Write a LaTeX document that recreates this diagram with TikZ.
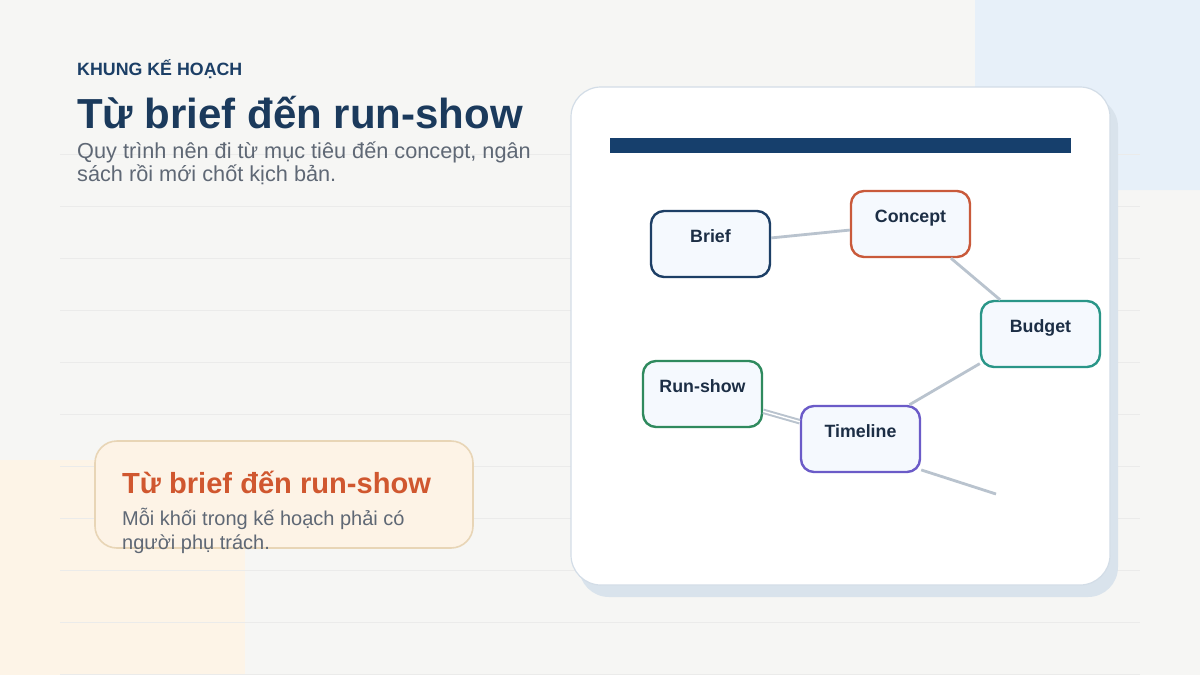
\documentclass[tikz,border=0pt]{standalone}
\usepackage{fontspec}
\setmainfont{Liberation Sans}
\usetikzlibrary{shapes.misc}
\definecolor{bgc}{HTML}{F6F6F4}
\definecolor{peach}{HTML}{FDF4E7}
\definecolor{bluec}{HTML}{E7F0F9}
\definecolor{gridc}{HTML}{EBEBEA}
\definecolor{shadowc}{HTML}{D9E3EC}
\definecolor{cardline}{HTML}{D3DDE7}
\definecolor{barc}{HTML}{163F6C}
\definecolor{navy}{HTML}{1B3A5C}
\definecolor{kick}{HTML}{1C3F66}
\definecolor{subc}{HTML}{5F6875}
\definecolor{edgec}{HTML}{B9C3CE}
\definecolor{nodefill}{HTML}{F5F9FE}
\definecolor{nodetext}{HTML}{1C2E45}
\definecolor{cBrief}{HTML}{1D3F66}
\definecolor{cConcept}{HTML}{C95A3B}
\definecolor{cBudget}{HTML}{2A9688}
\definecolor{cRun}{HTML}{2F8A5E}
\definecolor{cTime}{HTML}{6B5BC8}
\definecolor{callfill}{HTML}{FDF3E6}
\definecolor{callline}{HTML}{E8D5B6}
\definecolor{callt}{HTML}{D0572F}
\tikzset{
  flow/.style={draw=#1, line width=2.4pt, fill=nodefill, rounded corners=13pt,
    minimum width=119pt, inner sep=0pt, text height=31pt, text depth=35pt,
    font=\bfseries\fontsize{17.8}{20}\selectfont, text=nodetext},
  link/.style={draw=edgec, line width=2.8pt},
  txt/.style={anchor=base west, inner sep=0pt},
}
\begin{document}
\begin{tikzpicture}[x=1pt,y=-1pt]
\useasboundingbox (0,0) rectangle (1200,675);
\fill[bgc] (0,0) rectangle (1200,675);
\fill[peach] (0,460) rectangle (245,675);
\fill[bluec, rounded corners=20pt] (975,-30) rectangle (1230,190);
\foreach \yy in {154,206,...,674} \draw[gridc, line width=0.8pt] (60,\yy) -- (1140,\yy);
% header texts
\node[txt, text=kick, font=\bfseries\fontsize{17.8}{20}\selectfont] (kicker) at (77,75) {KHUNG KẾ HOẠCH};
\node[txt, text=navy, font=\bfseries\fontsize{42}{46}\selectfont] (title) at (77,128) {Từ brief đến run-show};
\node[txt, text=subc, font=\fontsize{21.7}{24}\selectfont] (sub1) at (77,158) {Quy trình nên đi từ mục tiêu đến concept, ngân};
\node[txt, text=subc, font=\fontsize{21.7}{24}\selectfont] (sub2) at (77,181) {sách rồi mới chốt kịch bản.};
% callout
\draw[callline, fill=callfill, line width=1.6pt, rounded corners=22pt] (95,441) rectangle (473,548);
\node[txt, text=callt, font=\bfseries\fontsize{29.1}{33}\selectfont] (ctitle) at (122,493) {Từ brief đến run-show};
\node[txt, text=subc, font=\fontsize{20}{23}\selectfont] (cb1) at (122,525) {Mỗi khối trong kế hoạch phải có};
\node[txt, text=subc, font=\fontsize{20}{23}\selectfont] (cb2) at (122,549) {người phụ trách.};
% card
\fill[shadowc, rounded corners=30pt] (579,97) rectangle (1118,597);
\draw[cardline, fill=white, line width=1.2pt, rounded corners=30pt] (571,87) rectangle (1110,585);
\fill[barc] (610,138) rectangle (1071,153);
% nodes
\node[flow=cBrief] (brief) at (710.5,244) {Brief};
\node[flow=cConcept] (concept) at (910.5,224) {Concept};
\node[flow=cBudget] (budget) at (1040.5,334) {Budget};
\node[flow=cRun] (runshow) at (702.5,394) {Run-show};
\node[flow=cTime] (timeline) at (860.5,439) {Timeline};
\coordinate (tend) at (996,494);
% links
\draw[link] (brief) -- (concept);
\draw[link] (concept) -- (budget);
\draw[link] (budget.206) -- (timeline.35);
\draw[draw=edgec, line width=2pt, double=white, double distance=1.4pt] (runshow) -- (timeline);
\draw[link] (timeline.-27) -- (tend);
\end{tikzpicture}
\end{document}
